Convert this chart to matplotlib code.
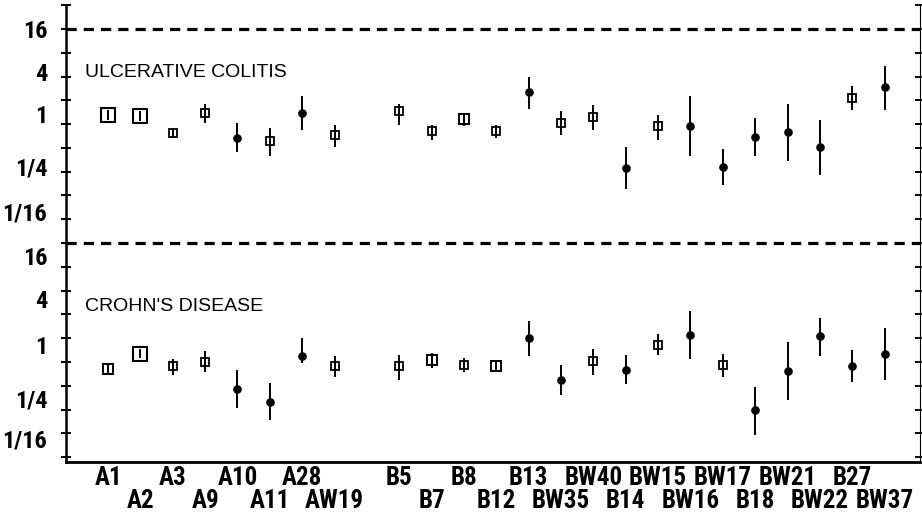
import numpy as np
import matplotlib
matplotlib.use("Agg")
import matplotlib.pyplot as plt
from matplotlib import font_manager
from matplotlib.transforms import ScaledTranslation
from matplotlib.ticker import FixedLocator, FixedFormatter, NullFormatter

# HLA loci along the x axis (gap between the A and B groups)
a_loci = ["A1", "A2", "A3", "A9", "A10", "A11", "A28", "AW19"]
b_loci = ["B5", "B7", "B8", "B12", "B13", "BW35", "BW40", "B14",
          "BW15", "BW16", "BW17", "B18", "BW21", "BW22", "B27", "BW37"]

# ulcerative colitis: relative risk, lower / upper limit, marker group
uc_rr = [1.30, 1.27, 0.77, 1.39, 0.66, 0.61, 1.39, 0.72,
         1.46, 0.81, 1.16, 0.81, 2.57, 1.03, 1.23, 0.28,
         0.95, 0.95, 0.29, 0.68, 0.79, 0.51, 2.14, 2.97]
uc_lo = [1.12, 1.10, 0.66, 1.03, 0.45, 0.40, 0.84, 0.52,
         0.97, 0.63, 0.94, 0.66, 1.55, 0.72, 0.84, 0.15,
         0.63, 0.40, 0.17, 0.39, 0.34, 0.23, 1.51, 1.51]
uc_hi = [1.50, 1.46, 0.89, 1.80, 1.03, 0.89, 2.28, 0.97,
         1.80, 0.97, 1.38, 0.97, 3.97, 1.46, 1.75, 0.52,
         1.30, 2.28, 0.49, 1.19, 1.80, 1.12, 3.05, 5.50]
uc_group = ["big", "big", "small", "small", "dot", "small", "dot", "small",
            "small", "small", "mid", "small", "dot", "small", "small", "dot",
            "small", "dot", "dot", "dot", "dot", "dot", "small", "dot"]

# Crohn's disease
cd_rr = [0.41, 0.64, 0.44, 0.50, 0.23, 0.154, 0.60, 0.44,
         0.44, 0.53, 0.46, 0.44, 1.00, 0.30, 0.51, 0.40,
         0.82, 1.10, 0.46, 0.123, 0.38, 1.07, 0.44, 0.64]
cd_lo = [0.36, 0.56, 0.34, 0.37, 0.13, 0.092, 0.48, 0.32,
         0.30, 0.42, 0.37, 0.38, 0.60, 0.19, 0.34, 0.26,
         0.61, 0.54, 0.32, 0.060, 0.165, 0.59, 0.28, 0.30]
cd_hi = [0.47, 0.73, 0.55, 0.69, 0.40, 0.27, 1.01, 0.59,
         0.62, 0.66, 0.57, 0.51, 1.65, 0.46, 0.74, 0.61,
         1.12, 2.23, 0.64, 0.24, 0.90, 1.82, 0.71, 1.33]
cd_group = ["mid", "big", "small", "small", "dot", "dot", "dot", "small",
            "small", "mid", "small", "mid", "dot", "dot", "small", "dot",
            "small", "dot", "small", "dot", "dot", "dot", "dot", "dot"]

ytick_vals = [16, 4, 1, 1/4, 1/16]
ytick_text = ["16", "4", "1", "1/4", "1/16"]
# the printed labels sit a little off their ticks (pixels, + is down)
uc_label_shift = [0, -5, -10, -5, -8]
cd_label_shift = [13, 8, 7, 13, 5]

styles = {
    "big":   dict(marker="s", ms=10, mfc="none", mec="black", mew=1.5),
    "mid":   dict(marker="s", ms=7.5, mfc="none", mec="black", mew=1.4),
    "small": dict(marker="s", ms=5.5, mfc="none", mec="black", mew=1.3),
    "dot":   dict(marker="o", ms=5.2, mfc="black", mec="black", mew=1),
}

# pick a narrow bold face if one is installed
names = {f.name for f in font_manager.fontManager.ttflist}
narrow = [n for n in ["Roboto Condensed", "Liberation Sans Narrow",
                      "Open Sans Condensed", "DejaVu Sans Condensed",
                      "Noto Sans Condensed"] if n in names]
if narrow:
    labprop = dict(family=narrow[0], weight="bold")
    xsize, ysize = 18, 17.5
else:
    labprop = dict(family="Liberation Sans", weight="bold")
    xsize, ysize = 15, 14

loci = a_loci + b_loci
xpos = np.r_[np.arange(len(a_loci)), np.arange(len(b_loci)) + len(a_loci) + 1]

fig = plt.figure(figsize=(9.22, 5.15), dpi=100)
ax1 = fig.add_axes([0.0716, 0.528, 0.9264, 0.462])
ax2 = fig.add_axes([0.0716, 0.103, 0.9264, 0.425], sharex=ax1)


def draw_panel(ax, rr, lo, hi, group, ylim, title, title_y, shifts):
    ax.set_yscale("log", base=2)
    ax.set_ylim(*ylim)
    ax.vlines(xpos, lo, hi, color="black", lw=1.4)
    for x, v, g in zip(xpos, rr, group):
        ax.plot(x, v, ls="none", **styles[g])
    ax.axhline(16, color="black", lw=2.3, ls=(0, (3.2, 2.2)), clip_on=False)
    ax.text(-0.7, title_y, title, fontsize=14, family="Liberation Sans",
            va="center", ha="left")
    ax.spines["top"].set_visible(False)
    ax.spines["left"].set_linewidth(1.8)
    ax.spines["right"].set_linewidth(0.8)
    ax.yaxis.set_major_locator(FixedLocator(ytick_vals))
    ax.yaxis.set_major_formatter(FixedFormatter(ytick_text))
    ax.yaxis.set_minor_locator(FixedLocator([2.0 ** k for k in range(-6, 6)]))
    ax.yaxis.set_minor_formatter(NullFormatter())
    ax.tick_params(axis="y", which="both", direction="inout", length=7,
                   width=1.4, pad=10)
    ax.tick_params(axis="y", which="both", right=True)
    for lab, dy in zip(ax.get_yticklabels(), shifts):
        lab.set_fontproperties(font_manager.FontProperties(size=ysize, **labprop))
        lab.set_transform(lab.get_transform()
                          + ScaledTranslation(0, -dy / 100, fig.dpi_scale_trans))


draw_panel(ax1, uc_rr, uc_lo, uc_hi, uc_group, (2.0 ** -5, 2.0 ** 5),
           "ULCERATIVE COLITIS", 4.5, uc_label_shift)
draw_panel(ax2, cd_rr, cd_lo, cd_hi, cd_group, (2.0 ** -5.2, 2.0 ** 4),
           "CROHN'S DISEASE", 2.5, cd_label_shift)

ax1.spines["bottom"].set_visible(False)
ax1.tick_params(axis="x", which="both", bottom=False, labelbottom=False)
ax2.spines["bottom"].set_linewidth(2)
ax2.set_xlim(-1.3, 25.1)
ax2.tick_params(axis="x", which="both", bottom=False, labelbottom=False)

# alternating two-row locus labels
for i, (x, name) in enumerate(zip(xpos, loci)):
    ax2.text(x, -0.075 if i % 2 == 0 else -0.178, name, fontsize=xsize,
             transform=ax2.get_xaxis_transform(), ha="center", va="center",
             fontproperties=font_manager.FontProperties(size=xsize, **labprop))

fig.savefig("out.png", dpi=100)
